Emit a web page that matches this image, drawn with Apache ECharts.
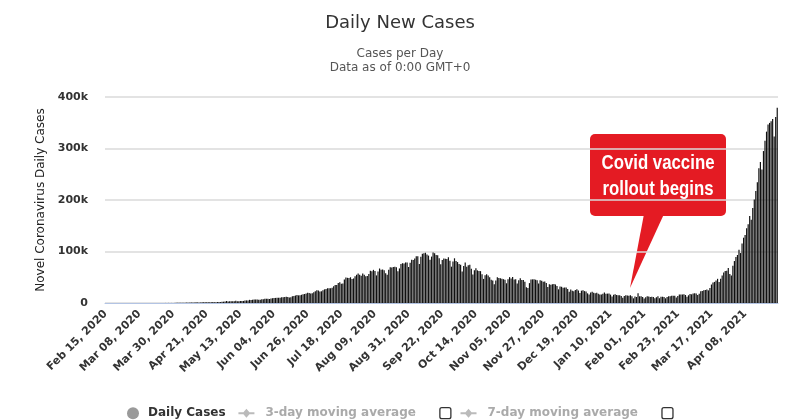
<!DOCTYPE html>
<html>
<head>
<meta charset="utf-8">
<script src="https://cdn.jsdelivr.net/npm/echarts@6/dist/echarts.min.js"></script>
<style>
html,body{margin:0;padding:0;background:#fff;}
#chart{width:800px;height:420px;}
</style>
</head>
<body>
<div id="chart"></div>
<script>
// ---- Data (daily new cases) ----
var startDate = [2020, 1, 15]; // Feb 15, 2020 (month 0-based)
var feb2020 = [0,0,0,0,0,0,0,0,0,0,0,0,0,0,0];
var mar2020 = [0,2,1,22,1,2,3,5,4,12,6,13,8,6,22,12,23,14,36,50,80,74,103,37,121,70,160,100,106,227,146];
var apr2020 = [601,545,478,576,515,693,354,773,549,896,918,909,796,1463,1076,941,1007,1371,1580,1239,1537,1292,1667,1408,1835,1607,1561,1873,1738,1801];
var may2020 = [2396,2564,2952,3656,2971,3602,3344,3339,3175,4311,3592,3562,3726,3991,3970,4987,5050,4628,6147,5611,6088,6654,6767,6977,6535,6387,7466,7254,8380,8392,8171];
var jun2020 = [7761,8909,9304,9851,9887,9971,9983,9985,10956,11156,11458,11929,11502,10667,11090,12881,13586,14516,15413,14821,14933,15968,16922,17296,18552,19906,19459,18522,19148,20903];
var jul2020 = [22771,24850,24248,22252,22752,24879,26506,27114,28637,28701,28498,29429,32695,34956,34884,38902,40425,37148,37724,45720,49310,48916,48661,49931,46484,47703,52123,55078,57118,54735,52972];
var aug2020 = [57117,54736,52050,52509,56282,62538,61537,64399,62064,53601,60963,66999,64553,65002,63490,57981,55079,64531,69652,68898,69878,70488,69239,61408,67151,75760,77266,76472,78761,78512,69921];
var sep2020 = [78357,83883,83341,86432,90632,90802,75809,89706,95735,96551,97570,94372,92071,83809,90123,97894,96424,93337,92605,86961,75083,83347,86508,86052,85362,88600,82170,70589,80472,86821];
var oct2020 = [81484,79476,75829,74442,61267,72049,78524,70496,73272,74383,66732,55342,63509,67708,63371,62212,61871,55722,46790,54044,55838,53370,50129,45148,43893,36469,43893,49881,48648,48268,46963];
var nov2020 = [46254,45231,38310,46253,50210,47638,50357,45674,45903,38073,44281,47905,44879,44684,41100,30548,29164,38617,45576,45882,46232,45209,44059,37975,44376,43082,41322,41810,38772,31118];
var dec2020 = [36604,35551,36594,36652,36011,32981,26567,32080,31521,29398,30006,30254,27071,22065,26382,24010,22890,25153,26624,24337,19556,23950,24712,23067,22273,18732,16432,20550,21822,20035,19079];
var jan2021 = [20035,18177,16505,16375,18088,20346,18139,18222,18645,16311,12584,15968,16946,15590,15158,15144,13788,10064,13823,15223,14545,14256,14849,13203,9102,12689,11666,18855,13083,13052,11427];
var feb2021 = [8635,11039,12899,12408,11713,12059,11831,9110,11067,12923,9309,12143,12194,11649,9121,11610,12881,13193,13993,14264,14199,10584,13742,16738,16577,16488,16752,15510];
var mar2021 = [12286,14989,17407,16838,18327,18711,18599,15388,17921,22854,23285,24882,25320,26291,24492,28903,35871,39726,40953,43846,46951,40715,47262,53476,59118,62258,62714,68020,56211,53480,72330];
var apr2021 = [81466,89129,93249,103558,96982,115736,126789,131968,145384,152879,168912,161736,184372,200739,217353,234692,261500,273810,259170,295041,314835,332730,346786,349691,352991,357229,323144,360960,379257];

var yTicks = [0, 100000, 200000, 300000, 400000];
var legendNames = ['Daily Cases', '3-day moving average', '7-day moving average'];
var titleText = 'Daily New Cases';
var subText = 'Cases per Day\nData as of 0:00 GMT+0';
var yName = 'Novel Coronavirus Daily Cases';
var calloutLines = ['Covid vaccine', 'rollout begins'];

var dailyCases = [].concat(feb2020, mar2020, apr2020, may2020, jun2020, jul2020, aug2020,
  sep2020, oct2020, nov2020, dec2020, jan2021, feb2021, mar2021, apr2021);

var MONTHS = ['Jan','Feb','Mar','Apr','May','Jun','Jul','Aug','Sep','Oct','Nov','Dec'];
var categories = [];
for (var i = 0; i < dailyCases.length; i++) {
  var d = new Date(Date.UTC(startDate[0], startDate[1], startDate[2] + i));
  var dd = d.getUTCDate();
  categories.push(MONTHS[d.getUTCMonth()] + ' ' + (dd < 10 ? '0' + dd : dd) + ', ' + d.getUTCFullYear());
}

var chart = echarts.init(document.getElementById('chart'), null, {renderer: 'canvas'});
var FONT = "'DejaVu Sans', sans-serif";
var CALLOUT_FONT = "bold 21px 'Liberation Sans', Arial, sans-serif";
var lineIcon = 'path://M0,5 L5,5 L8,1.5 L11,5 L16,5 L16,7 L11,7 L8,10.5 L5,7 L0,7 Z';

chart.setOption({
  backgroundColor: '#ffffff',
  animation: false,
  title: {
    text: titleText,
    subtext: subText,
    left: 'center',
    top: 9,
    itemGap: 15,
    textStyle: {fontFamily: FONT, fontSize: 18, fontWeight: 'normal', color: '#333333'},
    subtextStyle: {fontFamily: FONT, fontSize: 12, color: '#555555', lineHeight: 14}
  },
  legend: {
    left: 122,
    top: 402,
    itemGap: 9,
    itemWidth: 16,
    itemHeight: 12,
    selectedMode: false,
    data: [
      {name: legendNames[0], icon: 'circle', itemStyle: {color: '#9a9a9a'}},
      {name: legendNames[1], icon: lineIcon, itemStyle: {color: '#bbbbbb'}},
      {name: legendNames[2], icon: lineIcon, itemStyle: {color: '#bbbbbb'}}
    ],
    formatter: function (name) {
      if (name === legendNames[0]) return '{p| }{d|' + name + '}{s0| }';
      return '{p| }{m|' + name + '}{s| }{b| }';
    },
    textStyle: {
      fontFamily: FONT,
      rich: {
        p: {width: 2},
        d: {fontFamily: FONT, fontSize: 12, fontWeight: 'bold', color: '#333333'},
        m: {fontFamily: FONT, fontSize: 12, fontWeight: 'bold', color: '#aaaaaa', padding: [0, 0, 0, 4]},
        s0: {width: 22},
        s: {width: 24},
        b: {width: 11, height: 11, borderColor: '#333333', borderWidth: 1.3, borderRadius: 2}
      }
    }
  },
  grid: {left: 105, right: 22, top: 97, bottom: 117},
  xAxis: {
    type: 'category',
    data: categories,
    axisLine: {lineStyle: {color: '#b3c4e4', width: 1}},
    axisTick: {show: false},
    axisLabel: {
      interval: 21,
      rotate: 45,
      margin: 9,
      fontFamily: FONT,
      fontSize: 11,
      fontWeight: 'bold',
      color: '#333333'
    }
  },
  yAxis: {
    type: 'value',
    min: yTicks[0],
    max: yTicks[yTicks.length - 1],
    interval: yTicks[1] - yTicks[0],
    name: yName,
    nameLocation: 'middle',
    nameGap: 58,
    nameRotate: 90,
    nameTextStyle: {fontFamily: FONT, fontSize: 12, color: '#222222'},
    splitLine: {lineStyle: {color: '#dadada', width: 1.5}},
    axisLine: {show: false},
    axisTick: {show: false},
    axisLabel: {
      margin: 17,
      fontFamily: FONT,
      fontSize: 11,
      fontWeight: 'bold',
      color: '#333333',
      formatter: function (v) { return v === 0 ? '0' : (v / 1000) + 'k'; }
    }
  },
  series: [
    {
      name: legendNames[0],
      type: 'bar',
      data: dailyCases,
      barCategoryGap: '22%',
      itemStyle: {color: '#111111'}
    },
    {name: legendNames[1], type: 'line', data: [], itemStyle: {color: '#bbbbbb'}},
    {name: legendNames[2], type: 'line', data: [], itemStyle: {color: '#bbbbbb'}}
  ],
  graphic: [
    {
      type: 'group',
      z: 100,
      children: [
        {type: 'rect', shape: {x: 590, y: 134, width: 136, height: 82, r: 5}, style: {fill: '#e41b23'}},
        {type: 'polygon', shape: {points: [[644, 214], [664, 214], [630, 288]]}, style: {fill: '#e41b23'}},
        {type: 'text', x: 658, y: 163, scaleX: 0.8, style: {x: 0, y: 0, text: calloutLines[0], fill: '#ffffff',
          align: 'center', verticalAlign: 'middle', font: CALLOUT_FONT}},
        {type: 'text', x: 658, y: 189, scaleX: 0.8, style: {x: 0, y: 0, text: calloutLines[1], fill: '#ffffff',
          align: 'center', verticalAlign: 'middle', font: CALLOUT_FONT}}
      ]
    }
  ]
});
</script>
</body>
</html>
